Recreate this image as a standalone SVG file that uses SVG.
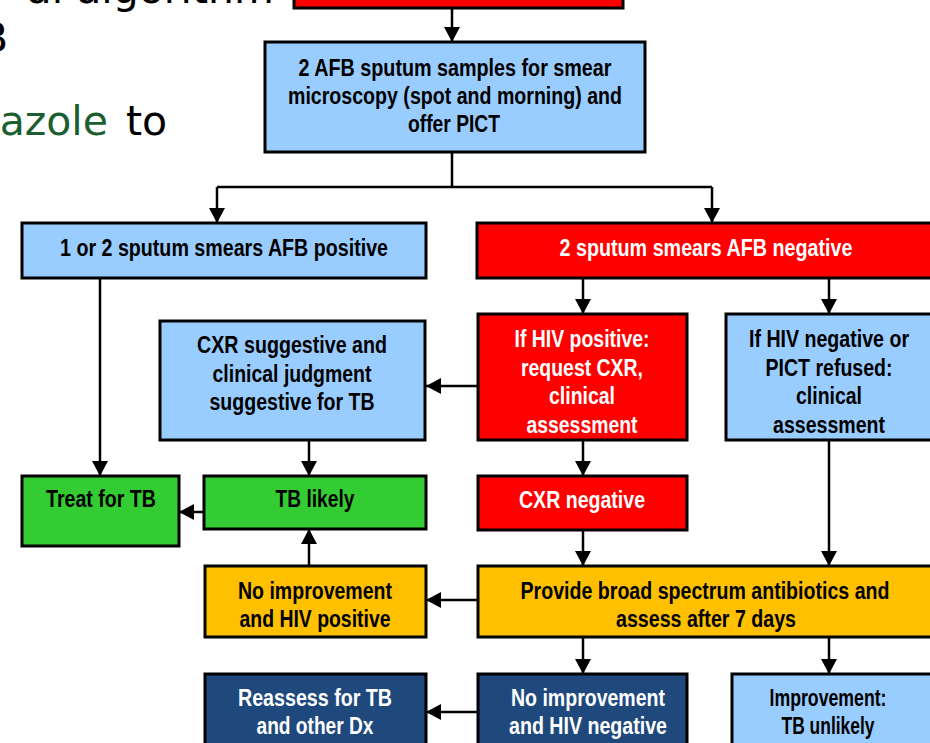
<svg xmlns="http://www.w3.org/2000/svg" width="930" height="743" viewBox="0 0 930 743">
<defs>
<marker id="ah" markerUnits="userSpaceOnUse" markerWidth="16" markerHeight="16" viewBox="0 0 16 16" refX="15" refY="8" orient="auto">
<path d="M0,0 L15,8 L0,16 z" fill="#000"/>
</marker>
</defs>
<style>
.bg{font-family:"DejaVu Sans",Verdana,sans-serif;font-size:41px;fill:#000}
.box rect{stroke:#000;stroke-width:3}
.lb{fill:#99CCFF}.rd{fill:#FF0000}.gr{fill:#33CC33}.am{fill:#FFC000}.db{fill:#1F497D}
text.t{font-family:"Liberation Sans",Arial,sans-serif;font-weight:bold;font-size:23px;text-anchor:middle}
.k{fill:#000}.w{fill:#fff}
#connectors path{fill:none;stroke:#000;stroke-width:2.5}
</style>
<rect width="930" height="743" fill="#fff"/>
<g id="background-text">
<text class="bg" x="274" y="3" text-anchor="end">al algorithm</text>
<text class="bg" x="-20" y="52">B</text>
<text class="bg" x="108" y="135" text-anchor="end" style="fill:#1B5E30">azole</text>
<text class="bg" x="126" y="135">to</text>
</g>
<g id="connectors">
<path d="M452,8 V42" marker-end="url(#ah)"/>
<path d="M452,152 V187 M217,187 H712"/>
<path d="M217,187 V223" marker-end="url(#ah)"/>
<path d="M712,187 V223" marker-end="url(#ah)"/>
<path d="M583,278 V314" marker-end="url(#ah)"/>
<path d="M829,278 V314" marker-end="url(#ah)"/>
<path d="M100,278 V476" marker-end="url(#ah)"/>
<path d="M478,386 H426" marker-end="url(#ah)"/>
<path d="M309,440 V476" marker-end="url(#ah)"/>
<path d="M204,512 H179" marker-end="url(#ah)"/>
<path d="M583,440 V476" marker-end="url(#ah)"/>
<path d="M583,530 V566" marker-end="url(#ah)"/>
<path d="M829,440 V566" marker-end="url(#ah)"/>
<path d="M309,566 V529" marker-end="url(#ah)"/>
<path d="M478,600 H426" marker-end="url(#ah)"/>
<path d="M583,637 V674" marker-end="url(#ah)"/>
<path d="M829,637 V674" marker-end="url(#ah)"/>
<path d="M478,712 H426" marker-end="url(#ah)"/>
</g>
<g id="top" class="box"><rect class="rd" x="294" y="-30" width="329" height="38"/></g>
<g id="samples" class="box"><rect class="lb" x="265" y="42" width="380" height="110"/>
<text class="t k" x="455" y="76" textLength="313" lengthAdjust="spacingAndGlyphs">2 AFB sputum samples for smear</text>
<text class="t k" x="455" y="104" textLength="334" lengthAdjust="spacingAndGlyphs">microscopy (spot and morning) and</text>
<text class="t k" x="454" y="132" textLength="92" lengthAdjust="spacingAndGlyphs">offer PICT</text></g>
<g id="positive" class="box"><rect class="lb" x="22" y="223" width="404" height="55"/>
<text class="t k" x="224" y="256" textLength="328" lengthAdjust="spacingAndGlyphs">1 or 2 sputum smears AFB positive</text></g>
<g id="negative" class="box"><rect class="rd" x="477" y="223" width="460" height="55"/>
<text class="t w" x="706" y="256" textLength="293" lengthAdjust="spacingAndGlyphs">2 sputum smears AFB negative</text></g>
<g id="hivpos" class="box"><rect class="rd" x="478" y="314" width="209" height="126"/>
<text class="t w" x="582" y="347" textLength="135" lengthAdjust="spacingAndGlyphs">If HIV positive:</text>
<text class="t w" x="582" y="376" textLength="122" lengthAdjust="spacingAndGlyphs">request CXR,</text>
<text class="t w" x="582" y="404" textLength="66" lengthAdjust="spacingAndGlyphs">clinical</text>
<text class="t w" x="582" y="433" textLength="111" lengthAdjust="spacingAndGlyphs">assessment</text></g>
<g id="hivneg" class="box"><rect class="lb" x="726" y="314" width="210" height="126"/>
<text class="t k" x="829" y="347" textLength="160" lengthAdjust="spacingAndGlyphs">If HIV negative or</text>
<text class="t k" x="829" y="376" textLength="127" lengthAdjust="spacingAndGlyphs">PICT refused:</text>
<text class="t k" x="829" y="404" textLength="66" lengthAdjust="spacingAndGlyphs">clinical</text>
<text class="t k" x="829" y="433" textLength="112" lengthAdjust="spacingAndGlyphs">assessment</text></g>
<g id="cxrsugg" class="box"><rect class="lb" x="160" y="321" width="265" height="119"/>
<text class="t k" x="292" y="353" textLength="190" lengthAdjust="spacingAndGlyphs">CXR suggestive and</text>
<text class="t k" x="292" y="382" textLength="159" lengthAdjust="spacingAndGlyphs">clinical judgment</text>
<text class="t k" x="292" y="410" textLength="165" lengthAdjust="spacingAndGlyphs">suggestive for TB</text></g>
<g id="treat" class="box"><rect class="gr" x="22" y="476" width="157" height="70"/>
<text class="t k" x="101" y="507" textLength="110" lengthAdjust="spacingAndGlyphs">Treat for TB</text></g>
<g id="tblikely" class="box"><rect class="gr" x="204" y="476" width="222" height="53"/>
<text class="t k" x="315" y="507" textLength="79" lengthAdjust="spacingAndGlyphs">TB likely</text></g>
<g id="cxrneg" class="box"><rect class="rd" x="478" y="476" width="209" height="54"/>
<text class="t w" x="582" y="508" textLength="126" lengthAdjust="spacingAndGlyphs">CXR negative</text></g>
<g id="noimppos" class="box"><rect class="am" x="205" y="566" width="221" height="71"/>
<text class="t k" x="315" y="599" textLength="154" lengthAdjust="spacingAndGlyphs">No improvement</text>
<text class="t k" x="315" y="627" textLength="151" lengthAdjust="spacingAndGlyphs">and HIV positive</text></g>
<g id="antibiotics" class="box"><rect class="am" x="478" y="566" width="458" height="71"/>
<text class="t k" x="705" y="599" textLength="369" lengthAdjust="spacingAndGlyphs">Provide broad spectrum antibiotics and</text>
<text class="t k" x="706" y="627" textLength="180" lengthAdjust="spacingAndGlyphs">assess after 7 days</text></g>
<g id="reassess" class="box"><rect class="db" x="205" y="674" width="221" height="80"/>
<text class="t w" x="315" y="706" textLength="154" lengthAdjust="spacingAndGlyphs">Reassess for TB</text>
<text class="t w" x="315" y="734" textLength="117" lengthAdjust="spacingAndGlyphs">and other Dx</text></g>
<g id="noimpneg" class="box"><rect class="db" x="478" y="674" width="209" height="80"/>
<text class="t w" x="588" y="706" textLength="154" lengthAdjust="spacingAndGlyphs">No improvement</text>
<text class="t w" x="588" y="734" textLength="158" lengthAdjust="spacingAndGlyphs">and HIV negative</text></g>
<g id="improvement" class="box"><rect class="lb" x="732" y="674" width="204" height="80"/>
<text class="t k" x="828" y="706" textLength="117" lengthAdjust="spacingAndGlyphs">Improvement:</text>
<text class="t k" x="828" y="734" textLength="93" lengthAdjust="spacingAndGlyphs">TB unlikely</text></g>
</svg>
